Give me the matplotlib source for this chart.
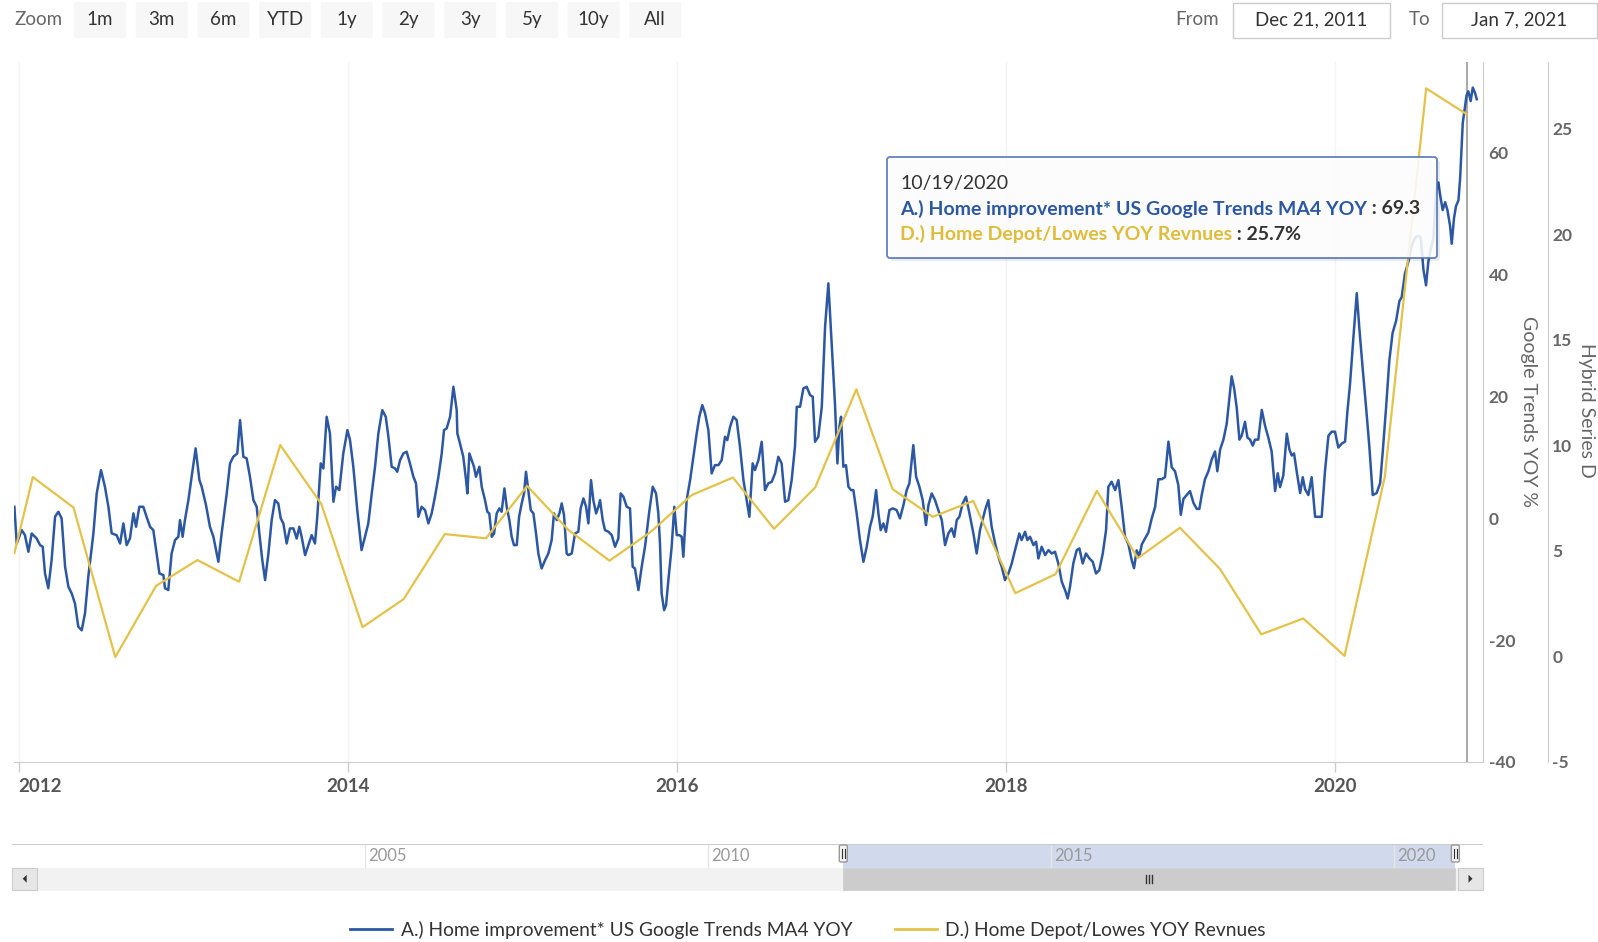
import matplotlib
matplotlib.use("Agg")
import matplotlib.pyplot as plt
from matplotlib.patches import FancyBboxPatch, Polygon
from matplotlib.lines import Line2D
from matplotlib.text import Annotation

plt.rcParams["font.family"] = ["Lato", "DejaVu Sans"]

# ---------------------------------------------------------------- data
# Google Trends "home improvement" MA4 YoY % (time as fractional years)
trend_years = [
    2011.975, 2011.989, 2012.019, 2012.039, 2012.060, 2012.080, 2012.110, 2012.131, 2012.147, 2012.161,
    2012.181, 2012.201, 2012.222, 2012.242, 2012.262, 2012.283, 2012.303, 2012.323, 2012.343, 2012.363,
    2012.384, 2012.404, 2012.424, 2012.455, 2012.475, 2012.501, 2012.525, 2012.546, 2012.566, 2012.596,
    2012.617, 2012.637, 2012.657, 2012.677, 2012.698, 2012.714, 2012.734, 2012.758, 2012.778, 2012.799,
    2012.819, 2012.839, 2012.856, 2012.880, 2012.890, 2012.910, 2012.930, 2012.951, 2012.971, 2012.981,
    2012.997, 2013.011, 2013.032, 2013.052, 2013.076, 2013.099, 2013.113, 2013.139, 2013.163, 2013.184,
    2013.214, 2013.234, 2013.265, 2013.285, 2013.305, 2013.329, 2013.346, 2013.366, 2013.386, 2013.406,
    2013.427, 2013.447, 2013.463, 2013.481, 2013.498, 2013.518, 2013.538, 2013.558, 2013.578, 2013.593,
    2013.609, 2013.629, 2013.649, 2013.670, 2013.690, 2013.706, 2013.720, 2013.741, 2013.761, 2013.781,
    2013.801, 2013.815, 2013.836, 2013.852, 2013.872, 2013.892, 2013.913, 2013.929, 2013.949, 2013.973,
    2013.998, 2014.014, 2014.034, 2014.058, 2014.084, 2014.105, 2014.125, 2014.146, 2014.166, 2014.186,
    2014.210, 2014.231, 2014.247, 2014.267, 2014.287, 2014.301, 2014.318, 2014.338, 2014.358, 2014.378,
    2014.399, 2014.415, 2014.429, 2014.449, 2014.470, 2014.490, 2014.510, 2014.530, 2014.551, 2014.571,
    2014.585, 2014.601, 2014.622, 2014.642, 2014.662, 2014.666, 2014.682, 2014.702, 2014.719, 2014.727,
    2014.739, 2014.753, 2014.767, 2014.779, 2014.800, 2014.814, 2014.834, 2014.848, 2014.860, 2014.875,
    2014.889, 2014.905, 2014.921, 2014.935, 2014.952, 2014.966, 2014.982, 2014.996, 2015.010, 2015.027,
    2015.041, 2015.057, 2015.071, 2015.083, 2015.097, 2015.112, 2015.128, 2015.144, 2015.158, 2015.178,
    2015.199, 2015.219, 2015.239, 2015.253, 2015.270, 2015.286, 2015.300, 2015.314, 2015.330, 2015.340,
    2015.361, 2015.381, 2015.401, 2015.415, 2015.432, 2015.448, 2015.462, 2015.478, 2015.492, 2015.509,
    2015.523, 2015.533, 2015.549, 2015.563, 2015.584, 2015.604, 2015.624, 2015.644, 2015.658, 2015.675,
    2015.695, 2015.715, 2015.731, 2015.745, 2015.766, 2015.786, 2015.806, 2015.833, 2015.853, 2015.873,
    2015.887, 2015.897, 2015.907, 2015.922, 2015.934, 2015.948, 2015.968, 2015.984, 2015.999, 2016.015,
    2016.029, 2016.039, 2016.059, 2016.080, 2016.100, 2016.120, 2016.136, 2016.154, 2016.171, 2016.191,
    2016.211, 2016.231, 2016.252, 2016.272, 2016.292, 2016.306, 2016.323, 2016.343, 2016.363, 2016.383,
    2016.404, 2016.424, 2016.440, 2016.460, 2016.474, 2016.495, 2016.515, 2016.535, 2016.555, 2016.576,
    2016.596, 2016.616, 2016.636, 2016.657, 2016.677, 2016.697, 2016.717, 2016.728, 2016.748, 2016.768,
    2016.788, 2016.809, 2016.825, 2016.839, 2016.859, 2016.880, 2016.900, 2016.920, 2016.940, 2016.960,
    2016.975, 2016.987, 2016.997, 2017.011, 2017.027, 2017.042, 2017.058, 2017.072, 2017.092, 2017.112,
    2017.133, 2017.153, 2017.173, 2017.189, 2017.210, 2017.224, 2017.238, 2017.254, 2017.270, 2017.291,
    2017.311, 2017.335, 2017.355, 2017.376, 2017.396, 2017.412, 2017.436, 2017.453, 2017.473, 2017.493,
    2017.513, 2017.528, 2017.548, 2017.568, 2017.588, 2017.609, 2017.629, 2017.649, 2017.669, 2017.685,
    2017.700, 2017.716, 2017.736, 2017.756, 2017.777, 2017.801, 2017.821, 2017.841, 2017.872, 2017.892,
    2017.912, 2017.933, 2017.953, 2017.973, 2017.993, 2018.014, 2018.034, 2018.054, 2018.080, 2018.094,
    2018.115, 2018.129, 2018.145, 2018.166, 2018.182, 2018.196, 2018.216, 2018.237, 2018.257, 2018.277,
    2018.297, 2018.317, 2018.338, 2018.358, 2018.374, 2018.388, 2018.408, 2018.429, 2018.445, 2018.465,
    2018.485, 2018.506, 2018.526, 2018.546, 2018.566, 2018.587, 2018.607, 2018.621, 2018.641, 2018.662,
    2018.682, 2018.702, 2018.722, 2018.743, 2018.763, 2018.777, 2018.793, 2018.809, 2018.824, 2018.844,
    2018.864, 2018.884, 2018.905, 2018.925, 2018.945, 2018.965, 2018.986, 2019.006, 2019.026, 2019.046,
    2019.061, 2019.077, 2019.097, 2019.117, 2019.138, 2019.158, 2019.174, 2019.188, 2019.208, 2019.229,
    2019.249, 2019.269, 2019.283, 2019.300, 2019.320, 2019.340, 2019.356, 2019.370, 2019.385, 2019.401,
    2019.417, 2019.431, 2019.451, 2019.466, 2019.482, 2019.498, 2019.512, 2019.532, 2019.553, 2019.573,
    2019.593, 2019.613, 2019.634, 2019.650, 2019.664, 2019.684, 2019.705, 2019.721, 2019.735, 2019.749,
    2019.765, 2019.786, 2019.802, 2019.816, 2019.836, 2019.856, 2019.877, 2019.897, 2019.917, 2019.937,
    2019.958, 2019.978, 2019.998, 2020.018, 2020.039, 2020.059, 2020.073, 2020.089, 2020.110, 2020.130,
    2020.146, 2020.166, 2020.187, 2020.207, 2020.227, 2020.251, 2020.272, 2020.288, 2020.308, 2020.328,
    2020.348, 2020.369, 2020.389, 2020.403, 2020.423, 2020.444, 2020.464, 2020.484, 2020.504, 2020.519,
    2020.535, 2020.551, 2020.565, 2020.579, 2020.596, 2020.612, 2020.626, 2020.636, 2020.652, 2020.667,
    2020.681, 2020.697, 2020.707, 2020.721, 2020.733, 2020.748, 2020.758, 2020.774, 2020.797, 2020.808,
    2020.822, 2020.835, 2020.849, 2020.859,
]
trend_values = [
    1.86, -4.16, -1.97, -2.79, -5.52, -2.52, -3.34, -4.43, -4.70, -9.08,
    -11.5, -6.89, 0.22, 1.04, -0.05, -7.98, -11.26, -12.35, -14.0, -17.8,
    -18.4, -15.6, -9.6, -2.5, 4.05, 7.87, 5.14, 1.86, -2.5, -2.8,
    -4.16, -0.87, -4.43, -3.34, 0.77, -1.42, 1.86, 1.86, 0.22, -1.42,
    -1.97, -5.8, -9.08, -9.35, -11.5, -11.8, -5.8, -3.6, -3.06, -0.33,
    -3.06, -0.33, 2.95, 6.78, 11.43, 6.23, 5.14, 2.13, -1.42, -3.06,
    -7.16, -2.5, 4.05, 8.97, 10.06, 10.6, 16.07, 10.06, 9.79, 6.78,
    2.95, 1.86, -2.5, -6.89, -10.17, -5.8, -0.33, 2.95, 2.41, -0.05,
    -0.87, -4.16, -1.69, -1.69, -3.34, -1.42, -3.06, -6.07, -4.43, -2.79,
    -4.16, 0.22, 8.97, 8.15, 16.62, 13.89, 2.68, 5.14, 4.59, 10.6,
    14.43, 12.79, 8.42, 1.31, -5.25, -3.06, -0.87, 4.05, 8.42, 13.89,
    17.71, 16.62, 13.34, 8.42, 8.15, 7.60, 9.51, 10.6, 10.88, 8.97,
    6.78, 5.69, 0.22, 1.86, 1.31, -0.87, 0.77, 3.50, 6.78, 10.6,
    14.43, 14.71, 16.62, 21.54, 17.71, 13.89, 12.25, 10.06, 6.23, 4.05,
    10.6, 9.51, 8.42, 6.78, 8.42, 5.14, 2.95, 1.04, 0.77, -3.06,
    -2.52, 0.77, 1.59, 1.04, 4.87, 1.86, -0.33, -3.06, -4.43, -4.43,
    0.22, 2.41, 4.05, 7.60, 4.59, 1.31, 0.77, -2.52, -5.80, -8.26,
    -6.89, -5.80, -3.61, 0.77, -0.33, 0.77, 2.41, 0.49, -5.80, -6.07,
    -5.80, -2.52, -2.24, 1.59, 3.23, 1.86, -0.87, 6.23, 2.95, 0.77,
    1.86, 2.95, -0.33, -1.97, -2.24, -2.79, -4.70, -3.34, 4.05, 3.50,
    1.86, 1.59, -7.98, -8.26, -11.81, -7.98, -4.70, 1.31, 5.14, 4.05,
    0.77, -4.16, -12.36, -15.09, -14.27, -10.17, -4.70, 1.86, -2.79, -2.79,
    -3.06, -6.34, 2.95, 6.23, 10.06, 13.89, 16.62, 18.53, 17.17, 14.43,
    7.33, 8.69, 8.69, 9.51, 13.34, 12.79, 14.98, 16.62, 16.07, 11.70,
    6.23, 2.95, 0.22, 8.97, 7.87, 9.51, 12.52, 4.59, 5.69, 5.96,
    7.33, 10.06, 8.97, 2.68, 2.95, 6.23, 11.70, 18.26, 18.26, 21.27,
    21.54, 20.17, 19.90, 12.52, 13.34, 18.26, 31.38, 38.49, 28.65, 18.81,
    8.97, 14.98, 16.62, 8.42, 8.69, 5.14, 4.59, 4.59, 0.77, -3.61,
    -7.16, -4.70, -1.42, 0.22, 4.59, 0.77, -1.97, -0.87, -2.24, 1.31,
    1.59, 1.31, -0.05, 2.13, 4.59, 5.69, 11.97, 6.78, 5.14, 2.95,
    -1.15, 2.13, 4.05, 2.95, 1.31, -0.33, -4.43, -2.52, -1.69, -3.06,
    -0.33, 0.22, 2.41, 3.50, 0.77, -2.52, -5.80, -1.97, 1.31, 2.95,
    -1.42, -4.16, -6.34, -7.98, -10.17, -9.08, -7.44, -5.25, -2.52, -3.61,
    -2.24, -3.61, -3.06, -4.43, -3.88, -6.62, -4.70, -6.07, -5.25, -5.80,
    -5.52, -7.44, -10.44, -11.81, -13.18, -11.26, -7.44, -5.25, -4.98, -7.44,
    -5.80, -6.62, -7.16, -9.08, -8.53, -5.80, -1.97, 5.14, 5.96, 4.59,
    6.23, 1.83, -3.02, -4.32, -6.92, -8.21, -5.29, -6.27, -4.32, -3.33,
    -2.38, -0.11, 1.83, 6.38, 6.38, 6.70, 12.54, 8.33, 7.68, 5.41,
    0.54, 3.14, 3.78, 4.43, 2.49, 1.51, 1.51, 3.78, 6.38, 7.68,
    9.62, 10.92, 7.68, 11.25, 12.87, 15.46, 19.68, 23.25, 21.30, 18.06,
    12.87, 13.52, 15.79, 13.20, 12.87, 11.89, 12.87, 12.87, 17.74, 15.14,
    13.20, 10.92, 4.43, 7.35, 5.08, 7.03, 13.84, 11.25, 10.27, 10.60,
    7.68, 4.11, 6.70, 4.75, 3.78, 6.70, 0.21, 0.21, 0.21, 7.68,
    13.52, 14.17, 14.17, 11.57, 12.22, 12.54, 17.41, 21.95, 29.74, 36.88,
    31.04, 24.55, 18.06, 11.57, 3.78, 4.11, 5.73, 10.92, 18.06, 25.85,
    30.39, 32.34, 35.58, 36.23, 40.13, 42.07, 44.67, 45.97, 46.29, 45.97,
    40.78, 38.18, 42.07, 44.02, 45.97, 53.76, 55.05, 53.11, 50.51, 51.81,
    50.51, 47.91, 44.99, 49.21, 51.16, 52.13, 55.70, 64.79, 69.3, 70.0,
    68.4, 70.6, 69.7, 68.7,
]

# Home Depot / Lowe's YoY revenue growth, % (fiscal quarter ends)
revenue_years = [
    2011.975, 2012.087, 2012.334, 2012.588, 2012.836, 2013.087, 2013.340, 2013.590,
    2013.840, 2014.090, 2014.340, 2014.590, 2014.840, 2015.090, 2015.340, 2015.590,
    2015.840, 2016.090, 2016.340, 2016.590, 2016.840, 2017.090, 2017.310, 2017.554,
    2017.800, 2018.056, 2018.300, 2018.551, 2018.800, 2019.056, 2019.300, 2019.550,
    2019.805, 2020.056, 2020.300, 2020.552, 2020.797,
]
revenue_values = [
    4.9, 8.5, 7.06, -0.03, 3.35, 4.57, 3.54, 10.02,
    7.22, 1.39, 2.72, 5.80, 5.60, 8.08, 6.0, 4.54,
    5.9, 7.65, 8.48, 6.05, 8.01, 12.66, 7.93, 6.62,
    7.37, 3.0, 3.9, 7.85, 4.66, 6.10, 4.14, 1.05,
    1.80, 0.03, 8.5, 26.92, 25.7,
]

series_names = ["A.) Home improvement* US Google Trends MA4 YOY",
                "D.) Home Depot/Lowes YOY Revnues"]
trend_ticks = [-40, -20, 0, 20, 40, 60]
revenue_ticks = [-5, 0, 5, 10, 15, 20, 25]
year_ticks = [2012, 2014, 2016, 2018, 2020]
nav_ticks = [2005, 2010, 2015, 2020]
zoom_buttons = ["1m", "3m", "6m", "YTD", "1y", "2y", "3y", "5y", "10y", "All"]
range_from, range_to = "Dec 21, 2011", "Jan 7, 2021"
hover_year, hover_label = 2020.797, "10/19/2020"
hover_trend, hover_revenue = 69.3, 25.7

view_start, view_end = 2011.975, 2020.897
nav_start, nav_end = 1999.86, 2021.30

BLUE = "#2c57a3"
GOLD = "#E4C24A"
GREY_TXT = "#666666"
DARK_TXT = "#333333"

# ---------------------------------------------------------------- figure
W, H, DPI = 1598, 942, 100
fig = plt.figure(figsize=(W / DPI, H / DPI), dpi=DPI)
fig.patch.set_facecolor("white")
PX = fig.dpi_scale_trans


def P(x, y):
    """pixel position measured from the top-left corner -> inches"""
    return (x / DPI, (H - y) / DPI)


def ftext(x, y, s, **kw):
    return fig.text(*P(x, y), s, transform=PX, **kw)


def box(x0, y0, x1, y1, r=0.0, **kw):
    style = f"round,pad=0,rounding_size={r / DPI}" if r > 0 else "square,pad=0"
    p = FancyBboxPatch(P(x0, y1), (x1 - x0) / DPI, (y1 - y0) / DPI,
                       boxstyle=style, transform=PX, **kw)
    fig.add_artist(p)
    return p


def follow(prev, s, **kw):
    """text placed right after another text artist"""
    a = Annotation(s, xy=(1, 0.5), xycoords=prev, ha="left", va="center",
                   annotation_clip=False, **kw)
    fig.add_artist(a)
    return a


# main plotting area
L, R, T, B = 14.4, 1483.0, 62.0, 762.0
ax = fig.add_axes([L / W, 1 - B / H, (R - L) / W, (B - T) / H])
ax2 = ax.twinx()

ax.set_xlim(view_start, view_end)
ax.set_ylim(-40, 74.8)
ax2.set_ylim(-5, 28.17)

line_a, = ax.plot(trend_years, trend_values, color=BLUE, lw=1.8, zorder=3,
                  solid_joinstyle="round")
line_d, = ax2.plot(revenue_years, revenue_values, color=GOLD, lw=1.6, zorder=3,
                   solid_joinstyle="round")

ax.axvline(hover_year, color="#9a9a9a", lw=1.2, zorder=2)

for a in (ax, ax2):
    a.patch.set_visible(False)
    for s in ("top", "left"):
        a.spines[s].set_visible(False)
ax2.spines["bottom"].set_visible(False)
ax.spines["bottom"].set_color("#cccccc")
ax.spines["right"].set_color("#cccccc")
ax2.spines["right"].set_color("#cccccc")
ax2.spines["right"].set_position(("outward", 65 * 0.72))

ax.set_xticks(year_ticks)
ax.set_xticklabels([str(y) for y in year_ticks])
ax.tick_params(axis="x", direction="out", length=7.2, width=1, color="#cccccc",
               pad=4.5, labelsize=13.5, labelcolor="#555555")
for t in ax.get_xticklabels():
    t.set_fontweight("bold")
ax.get_xticklabels()[0].set_horizontalalignment("left")
ax.grid(axis="x", color="#f4f4f4", lw=1)
ax.grid(axis="y", visible=False)

ax.yaxis.tick_right()
ax.set_yticks(trend_ticks)
ax.set_yticklabels([str(v) for v in trend_ticks])
ax.tick_params(axis="y", length=0, pad=4, labelsize=12.5, labelcolor=GREY_TXT)
ax2.set_yticks(revenue_ticks)
ax2.set_yticklabels([str(v) for v in revenue_ticks])
ax2.tick_params(axis="y", length=0, pad=3, labelsize=12.5, labelcolor=GREY_TXT)
for t in ax.get_yticklabels() + ax2.get_yticklabels():
    t.set_fontweight("bold")

ftext(1529, 411, "Google Trends YOY %", rotation=270, ha="center", va="center",
      fontsize=14, color=GREY_TXT)
ftext(1586, 410, "Hybrid Series D", rotation=270, ha="center", va="center",
      fontsize=14, color=GREY_TXT)

# ---------------------------------------------------------------- tooltip
box(890, 160, 1440, 261, r=3, fc="#000000", ec="none", alpha=0.08, zorder=9)
box(887, 157, 1437, 258, r=3, fc="white", ec="#4a70b5", lw=1.3, alpha=0.87, zorder=10)
TT = 14
ftext(900, 184, hover_label, ha="left", va="center", fontsize=TT,
      color=DARK_TXT, zorder=11)
ta = ftext(900, 209, series_names[0], ha="left", va="center", fontsize=TT,
           color=BLUE, fontweight="bold", zorder=11)
follow(ta, f" : {hover_trend:.1f}", fontsize=TT, color=DARK_TXT,
       fontweight="bold", zorder=11)
td = ftext(900, 234, series_names[1], ha="left", va="center", fontsize=TT,
           color="#E0BC3C", fontweight="bold", zorder=11)
follow(td, f" : {hover_revenue:.1f}%", fontsize=TT, color=DARK_TXT,
       fontweight="bold", zorder=11)

# ---------------------------------------------------------------- range selector
ftext(14, 20, "Zoom", ha="left", va="center", fontsize=13.5, color=GREY_TXT)
btn_x = 100.0
for lab in zoom_buttons:
    box(btn_x - 26, 2, btn_x + 26, 38, r=2, fc="#f7f7f7", ec="none")
    ftext(btn_x, 20, lab, ha="center", va="center", fontsize=13.5, color=DARK_TXT)
    btn_x += 61.7

ftext(1197, 20, "From", ha="center", va="center", fontsize=13.5, color=GREY_TXT)
box(1233, 3, 1390, 38, fc="white", ec="#cccccc", lw=1)
ftext(1311, 20, range_from, ha="center", va="center", fontsize=13.5, color=DARK_TXT)
ftext(1420, 20, "To", ha="center", va="center", fontsize=13.5, color=GREY_TXT)
box(1442, 3, 1597, 38, fc="white", ec="#cccccc", lw=1)
ftext(1519, 20, range_to, ha="center", va="center", fontsize=13.5, color=DARK_TXT)

# ---------------------------------------------------------------- navigator
NL, NR, NT, NB = 12.2, 1483.0, 844.0, 867.5
nav = fig.add_axes([NL / W, 1 - NB / H, (NR - NL) / W, (NB - NT) / H])
nav.set_xlim(nav_start, nav_end)
nav.set_ylim(0, 1)
nav.axis("off")
for yr in nav_ticks:
    nav.axvline(yr, color="#e6e6e6", lw=1)
    nav.annotate(str(yr), xy=(yr, 0.5), xytext=(2.5, 0), textcoords="offset points",
                 ha="left", va="center", fontsize=12, color="#999999")
nav.axvspan(view_start, view_end, color=(102 / 255, 133 / 255, 194 / 255), alpha=0.3, lw=0)
nav.axhline(1, color="#cccccc", lw=1.5)

fig.canvas.draw()
x_lo = fig.transFigure.inverted().transform(nav.transData.transform((view_start, 0)))[0] * W
x_hi = fig.transFigure.inverted().transform(nav.transData.transform((view_end, 0)))[0] * W

# scrollbar
SB_T, SB_B = 867.5, 890.0
box(NL, SB_T, NR, SB_B, fc="#f2f2f2", ec="#f2f2f2", lw=0.5)
th_lo, th_hi = max(x_lo, NL + 26), min(x_hi, NR - 26)
box(th_lo, SB_T, th_hi, SB_B, fc="#cccccc", ec="#cccccc", lw=0.5)
box(NL, SB_T, NL + 25, SB_B, fc="#e6e6e6", ec="#cccccc", lw=0.8)
box(NR - 25, SB_T, NR, SB_B, fc="#e6e6e6", ec="#cccccc", lw=0.8)
cy = (SB_T + SB_B) / 2
fig.add_artist(Polygon([P(NL + 14.5, cy - 4), P(NL + 14.5, cy + 4), P(NL + 10.5, cy)],
                       closed=True, transform=PX, fc="#333333", ec="none"))
fig.add_artist(Polygon([P(NR - 14.5, cy - 4), P(NR - 14.5, cy + 4), P(NR - 10.5, cy)],
                       closed=True, transform=PX, fc="#333333", ec="none"))
mid = (th_lo + th_hi) / 2
for dx in (-3, 0, 3):
    fig.add_artist(Line2D([P(mid + dx, 0)[0]] * 2, [P(0, cy - 4)[1], P(0, cy + 4)[1]],
                          transform=PX, color="#333333", lw=1))

# navigator handles
for hx in (x_lo, x_hi):
    box(hx - 4, NT + 1, hx + 4, NT + 18, r=1.5, fc="#f2f2f2", ec="#999999", lw=1, zorder=5)
    for dx in (-1.3, 1.3):
        fig.add_artist(Line2D([P(hx + dx, 0)[0]] * 2,
                              [P(0, NT + 5)[1], P(0, NT + 14)[1]],
                              transform=PX, color="#333333", lw=0.8, zorder=6))

# ---------------------------------------------------------------- legend
leg = fig.legend([Line2D([], [], color=BLUE, lw=2), Line2D([], [], color=GOLD, lw=2)],
                 series_names, loc="center", bbox_to_anchor=(808 / W, 1 - 930 / H),
                 ncol=2, frameon=False, fontsize=13.8, handlelength=2.2,
                 handletextpad=0.45, columnspacing=2.2)
for t in leg.get_texts():
    t.set_color(DARK_TXT)

fig.savefig("out.png", dpi=DPI, facecolor="white")
